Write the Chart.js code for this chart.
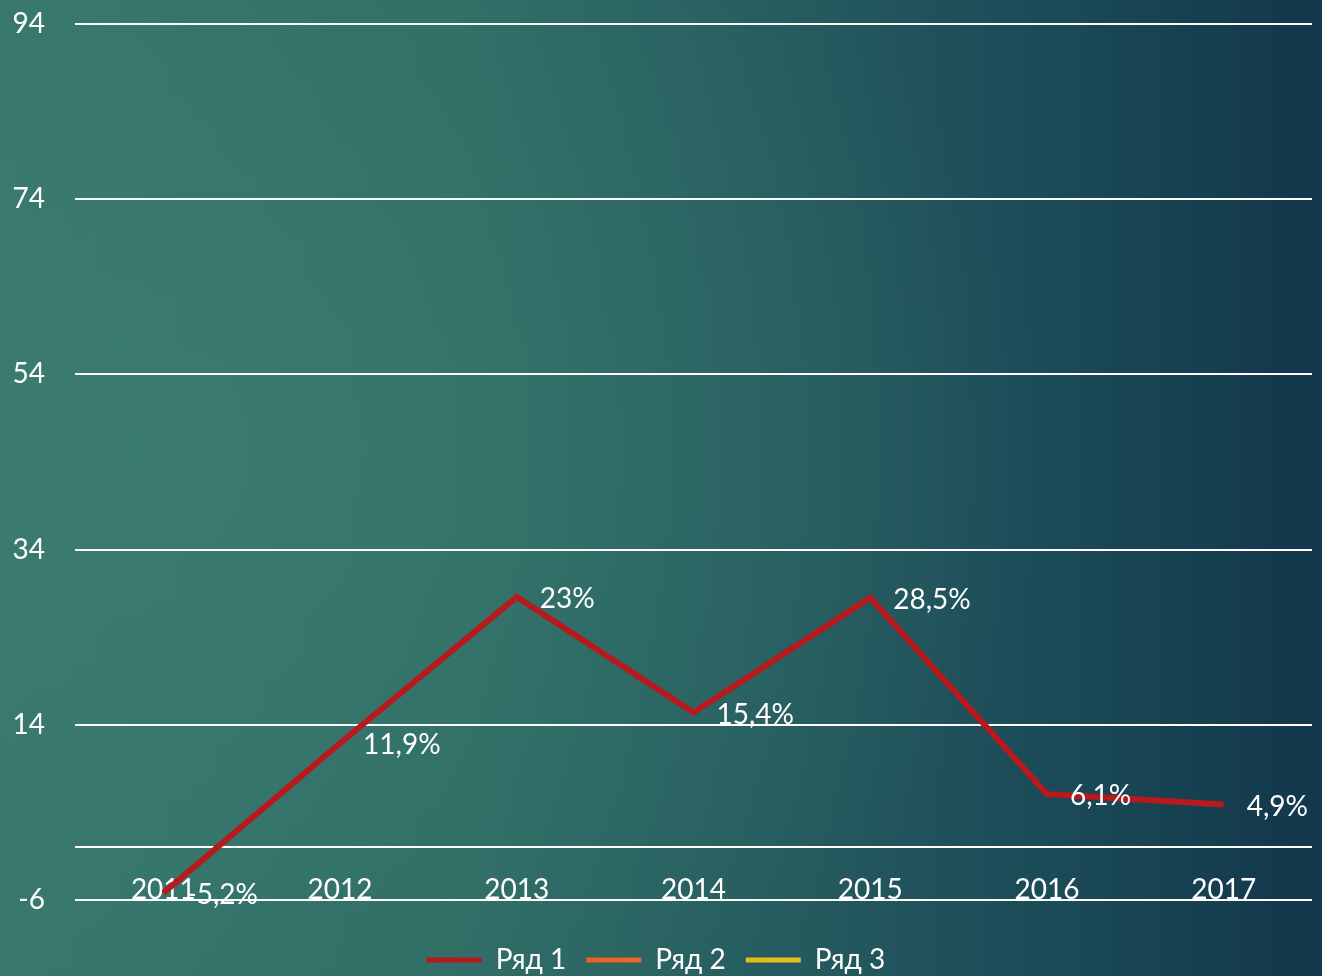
<!DOCTYPE html>
<html>
<head>
<meta charset="utf-8">
<script src="https://cdn.jsdelivr.net/npm/chart.js@4/dist/chart.umd.min.js"></script>
<style>
html,body{margin:0;padding:0;}
body{width:1322px;height:976px;overflow:hidden;
background:
 radial-gradient(ellipse 900px 700px at 150px 450px, rgba(64,130,116,0.55), rgba(64,130,116,0) 100%),
 linear-gradient(to right, #37766b 0%, #2f6c65 35%, #24595e 62%, #1a4857 82%, #12374a 100%);}
#wrap{position:absolute;left:0;top:0;width:1322px;height:976px;}
</style>
</head>
<body>
<div id="wrap"><canvas id="c" width="1322" height="976"></canvas></div>
<script>
const categories = ['2011','2012','2013','2014','2015','2016','2017'];
const series1 = [-5.2, 11.9, 28.6, 15.4, 28.5, 6.1, 4.9];
const series1Labels = ['-5,2%','11,9%','23%','15,4%','28,5%','6,1%','4,9%'];
const series2 = [];
const series3 = [];
const seriesNames = ['Ряд 1','Ряд 2','Ряд 3'];
const seriesColors = ['#b8191c','#e8661e','#e9b923'];
const yTicks = [-6, 0, 14, 34, 54, 74, 94];
const yTickLabels = ['-6', '', '14', '34', '54', '74', '94'];

const FONT = "Lato, 'DejaVu Sans', sans-serif";
const FS = 28;

const dataLabelPlugin = {
  id: 'dataLabels',
  afterDatasetsDraw(chart) {
    const ctx = chart.ctx;
    const meta = chart.getDatasetMeta(0);
    ctx.save();
    ctx.font = FS + 'px ' + FONT;
    ctx.fillStyle = '#ffffff';
    ctx.textAlign = 'left';
    ctx.textBaseline = 'middle';
    meta.data.forEach((pt, i) => {
      ctx.fillText(series1Labels[i], pt.x + 23, pt.y + 2);
    });
    ctx.restore();
  }
};

new Chart(document.getElementById('c'), {
  type: 'line',
  data: {
    labels: categories,
    datasets: [
      {label: seriesNames[0], data: series1, borderColor: seriesColors[0], backgroundColor: seriesColors[0], borderWidth: 6, pointRadius: 0, tension: 0},
      {label: seriesNames[1], data: series2, borderColor: seriesColors[1], backgroundColor: seriesColors[1], borderWidth: 6, pointRadius: 0},
      {label: seriesNames[2], data: series3, borderColor: seriesColors[2], backgroundColor: seriesColors[2], borderWidth: 6, pointRadius: 0}
    ]
  },
  options: {
    responsive: false,
    animation: false,
    layout: {padding: {left: 0, right: 10, top: 24, bottom: -8}},
    plugins: {
      tooltip: {enabled: false},
      legend: {
        position: 'bottom',
        labels: {
          color: '#ffffff',
          font: {family: FONT, size: FS},
          boxWidth: 55,
          boxHeight: 5,
          padding: 20,
          generateLabels(chart) {
            const items = Chart.defaults.plugins.legend.labels.generateLabels(chart);
            items.forEach((it, i) => { it.lineWidth = 0; it.fillStyle = seriesColors[i]; it.strokeStyle = seriesColors[i]; });
            return items;
          }
        }
      }
    },
    scales: {
      x: {
        offset: true,
        grid: {display: false, drawTicks: false},
        border: {display: false},
        ticks: {color: '#ffffff', font: {family: FONT, size: FS}, mirror: true, padding: -7, maxRotation: 0, autoSkip: false},
        afterFit(scale) { scale.height = 26; scale.paddingLeft = 0; scale.paddingRight = 0; }
      },
      y: {
        min: -6, max: 94,
        afterBuildTicks(scale) { scale.ticks = yTicks.map(v => ({value: v})); },
        afterFit(scale) { scale.width = 75; scale.paddingTop = 0; scale.paddingBottom = 0; },
        grid: {color: '#ffffff', lineWidth: 2, drawTicks: false},
        border: {display: false},
        ticks: {
          color: '#ffffff', font: {family: FONT, size: FS}, padding: 30,
          callback(v) { const i = yTicks.indexOf(v); return i >= 0 ? yTickLabels[i] : ''; }
        }
      }
    }
  },
  plugins: [dataLabelPlugin]
});
</script>
</body>
</html>
